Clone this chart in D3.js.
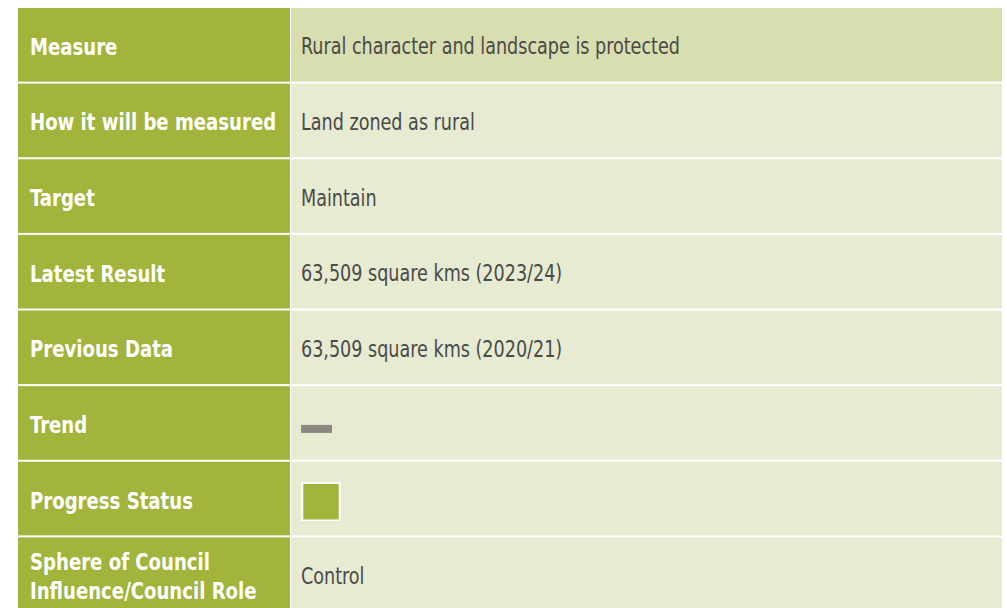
<!DOCTYPE html>
<html>
<head>
<meta charset="utf-8">
<script src="https://cdn.jsdelivr.net/npm/d3@7"></script>
<style>
  body { margin: 0; background: #fff; }
  svg { display: block; }
</style>
</head>
<body>
<div id="chart"></div>
<script>
// === Table data ===
var labels = ["Measure", "How it will be measured", "Target", "Latest Result", "Previous Data",
              "Trend", "Progress Status", "Sphere of Council\nInfluence/Council Role"];
var values = ["Rural character and landscape is protected", "Land zoned as rural", "Maintain",
              "63,509 square kms (2023/24)", "63,509 square kms (2020/21)", "", "", "Control"];
var trend = ["flat"];      // shown as a gray dash
var status = ["on track"]; // shown as a green square

var width = 1007, height = 608;
var green = "#a2b43b", headFill = "#d9deb1", cellFill = "#e7ebd2";
var font = "'DejaVu Sans Condensed', 'Liberation Sans', sans-serif";
// condensed look of the original typeface
var squeezeLabel = 0.875, squeezeValue = 0.85;

var svg = d3.select("#chart").append("svg")
    .attr("width", width)
    .attr("height", height);

var y = d3.scaleBand().domain(labels).range([8, 613]).paddingInner(0);
var x = d3.scaleOrdinal().domain(["label", "value"]).range([18, 291]);
var colW = { label: 272, value: 711 };
var gap = 2;
var cellH = y.bandwidth() - gap;

var rows = svg.selectAll("g.row")
    .data(labels)
    .enter()
    .append("g")
    .attr("class", "row")
    .attr("transform", function (d) { return "translate(0," + y(d) + ")"; });

// left label cells
rows.append("rect")
    .attr("x", x("label"))
    .attr("width", colW.label)
    .attr("height", cellH)
    .attr("fill", green);

// right value cells
rows.append("rect")
    .attr("x", x("value"))
    .attr("width", colW.value)
    .attr("height", cellH)
    .attr("fill", function (d, i) { return i == 0 ? headFill : cellFill; });

// label text
rows.append("text")
    .attr("transform", "translate(" + (x("label") + 12) + "," + (cellH / 2 + 10) + ") scale(" + squeezeLabel + ",1)")
    .attr("fill", "#fff")
    .style("font-family", font)
    .style("font-weight", "bold")
    .style("font-size", "23px")
    .each(function (d) {
        var lines = d.split("\n");
        var t = d3.select(this);
        lines.forEach(function (l, k) {
            t.append("tspan")
                .attr("x", 0)
                .attr("y", (k - (lines.length - 1) / 2) * 29)
                .text(l);
        });
    });

// value text
rows.append("text")
    .attr("transform", "translate(" + (x("value") + 10) + "," + (cellH / 2 + 9.5) + ") scale(" + squeezeValue + ",1)")
    .attr("fill", "#4a4a48")
    .style("font-family", font)
    .style("font-size", "23px")
    .text(function (d, i) { return values[i]; });

// trend dash
svg.selectAll("rect.trend")
    .data(trend)
    .enter()
    .append("rect")
    .attr("class", "trend")
    .attr("x", x("value") + 10)
    .attr("y", y("Trend") + cellH / 2 + 2)
    .attr("width", 31)
    .attr("height", 8)
    .attr("fill", "#8c8783");

// progress status square
svg.selectAll("rect.status")
    .data(status)
    .enter()
    .append("rect")
    .attr("class", "status")
    .attr("x", x("value") + 11.5)
    .attr("y", y("Progress Status") + 21.5)
    .attr("width", 37)
    .attr("height", 37)
    .attr("fill", green)
    .attr("stroke", "#fff")
    .attr("stroke-width", 1.5);
</script>
</body>
</html>
